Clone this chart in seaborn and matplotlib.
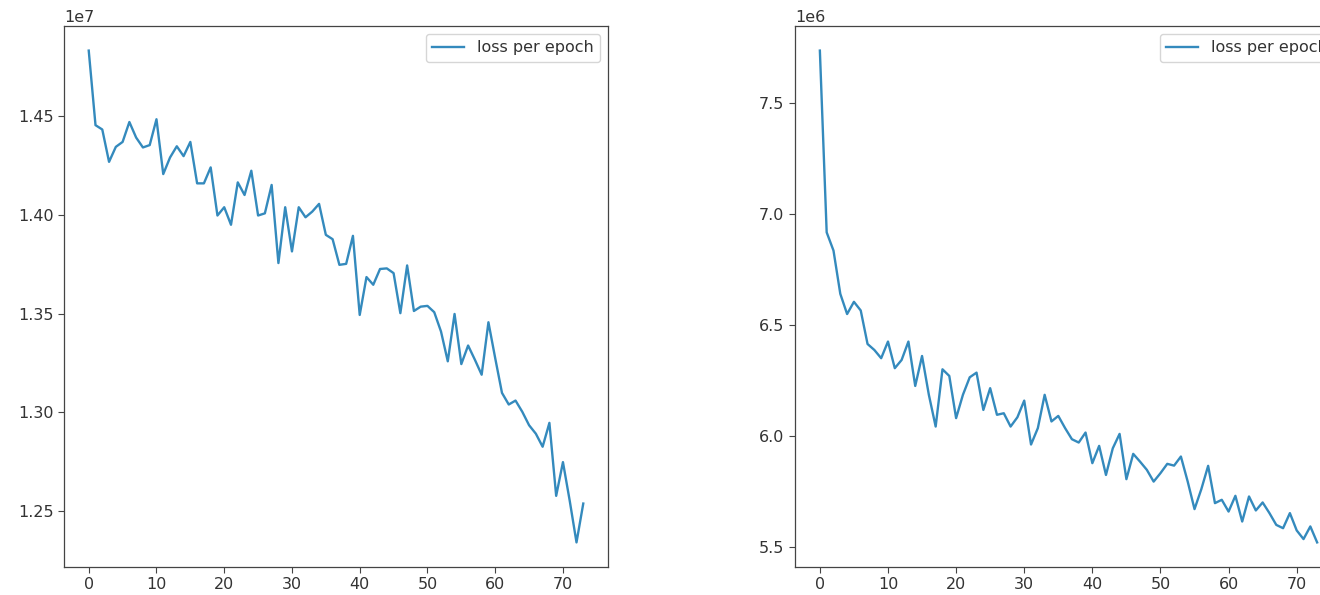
import numpy as np
import pandas as pd
import matplotlib
matplotlib.use("Agg")
import matplotlib.pyplot as plt
import seaborn as sns

# Loss per epoch (left: scale 1e7, right: scale 1e6)
loss_left = [
    1.4833, 1.4455, 1.4433, 1.4269, 1.4345, 1.4370, 1.4471, 1.4392, 1.4342, 1.4354,
    1.4485, 1.4207, 1.4291, 1.4348, 1.4298, 1.4370, 1.4160, 1.4160, 1.4241, 1.3997,
    1.4039, 1.3950, 1.4165, 1.4101, 1.4224, 1.3997, 1.4008, 1.4152, 1.3756, 1.4039,
    1.3815, 1.4039, 1.3988, 1.4017, 1.4056, 1.3899, 1.3877, 1.3747, 1.3752, 1.3894,
    1.3493, 1.3685, 1.3646, 1.3726, 1.3729, 1.3705, 1.3502, 1.3744, 1.3513, 1.3535,
    1.3539, 1.3507, 1.3409, 1.3258, 1.3498, 1.3244, 1.3338, 1.3266, 1.3190, 1.3456,
    1.3274, 1.3098, 1.3039, 1.3059, 1.3002, 1.2934, 1.2891, 1.2825, 1.2946, 1.2576,
    1.2747, 1.2551, 1.2340, 1.2537,
]
loss_right = [
    7.736, 6.917, 6.835, 6.640, 6.549, 6.604, 6.565, 6.414, 6.387, 6.350,
    6.425, 6.305, 6.342, 6.425, 6.225, 6.360, 6.185, 6.042, 6.300, 6.270,
    6.080, 6.185, 6.264, 6.285, 6.117, 6.215, 6.095, 6.102, 6.042, 6.084,
    6.159, 5.961, 6.035, 6.185, 6.065, 6.090, 6.035, 5.985, 5.970, 6.015,
    5.877, 5.955, 5.824, 5.944, 6.009, 5.805, 5.919, 5.884, 5.847, 5.794,
    5.832, 5.874, 5.866, 5.907, 5.794, 5.670, 5.760, 5.865, 5.697, 5.712,
    5.659, 5.730, 5.614, 5.727, 5.664, 5.700, 5.652, 5.599, 5.584, 5.652,
    5.574, 5.535, 5.592, 5.520,
]
epochs = list(range(len(loss_left)))
label = "loss per epoch"

df_left = pd.DataFrame({"epoch": epochs, "loss": np.array(loss_left) * 1e7})
df_right = pd.DataFrame({"epoch": epochs, "loss": np.array(loss_right) * 1e6})

plt.rcParams["font.family"] = ["DejaVu Sans"]
plt.rcParams["font.size"] = 11.5
plt.rcParams["axes.linewidth"] = 0.9
plt.rcParams["axes.edgecolor"] = "#444444"
plt.rcParams["xtick.color"] = "#444444"
plt.rcParams["ytick.color"] = "#444444"
plt.rcParams["xtick.labelcolor"] = "#333333"
plt.rcParams["ytick.labelcolor"] = "#333333"
plt.rcParams["text.color"] = "#333333"
plt.rcParams["xtick.major.size"] = 4
plt.rcParams["ytick.major.size"] = 4

W, H = 1320, 595
fig = plt.figure(figsize=(W / 100, H / 100), dpi=100)
ax1 = fig.add_axes([64 / W, (H - 567) / H, 544 / W, 541 / H])
ax2 = fig.add_axes([795 / W, (H - 567) / H, 547 / W, 541 / H])

color = "#348ABD"
for ax, df in ((ax1, df_left), (ax2, df_right)):
    sns.lineplot(data=df, x="epoch", y="loss", ax=ax, color=color, lw=1.7, label=label)
    ax.set_xlabel("")
    ax.set_ylabel("")
    ax.legend(loc="upper right", fontsize=11.5)
    ax.set_xticks([0, 10, 20, 30, 40, 50, 60, 70])

fig.savefig("out.png", dpi=100)
